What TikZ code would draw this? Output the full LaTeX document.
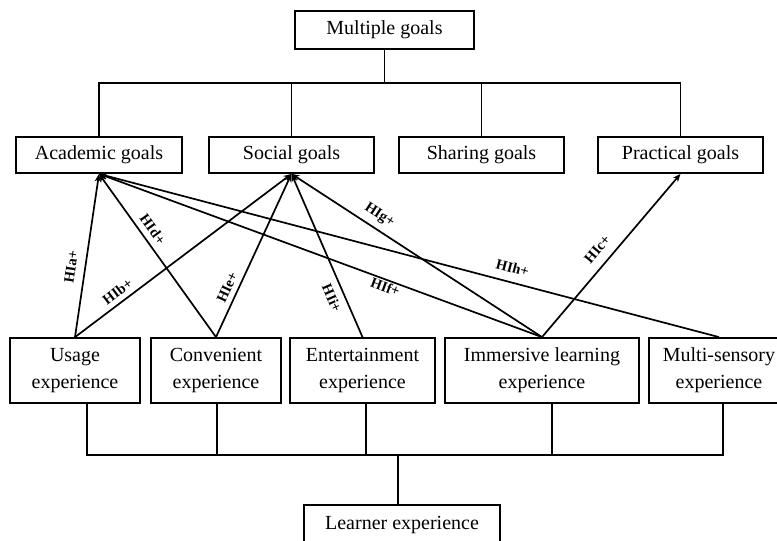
\documentclass[tikz,border=0pt]{standalone}
\usepackage{fontspec}
\setmainfont{Liberation Serif}
\usetikzlibrary{arrows.meta}
\begin{document}
\begin{tikzpicture}[x=1pt,y=-1pt,
  box/.style={draw, line width=1.8pt, inner sep=0pt, align=center,
    font=\fontsize{20}{27}\selectfont},
  goalbox/.style={box, minimum width=165pt, minimum height=36pt},
  expbox/.style={box, minimum width=130pt, minimum height=65pt},
  link/.style={line width=1.8pt},
  hyp/.style={line width=1.7pt, -{Stealth[length=8pt,width=6.5pt]}},
  hlabel/.style={sloped, inner sep=0pt, font=\bfseries\fontsize{14.5}{14.5}\selectfont}]
\useasboundingbox (0,0) rectangle (777,541);

% top level
\node[box, minimum width=179pt, minimum height=38pt] (mg) at (384.5,30) {Multiple goals};

% goal boxes
\node[goalbox, minimum width=166pt] (ag) at (99,155) {Academic goals};
\node[goalbox] (sg) at (291.5,155) {Social goals};
\node[goalbox] (shg) at (481.5,155) {Sharing goals};
\node[goalbox] (pg) at (680.5,155) {Practical goals};

% experience boxes
\node[expbox] (ue) at (75,370.5) {Usage\\experience};
\node[expbox] (ce) at (216,370.5) {Convenient\\experience};
\node[expbox, minimum width=145pt] (ee) at (362.5,370.5) {Entertainment\\experience};
\node[expbox, minimum width=194pt] (ie) at (542,370.5) {Immersive learning\\experience};
\node[expbox, minimum width=140pt] (me) at (719,370.5) {Multi-sensory\\experience};

% bottom level
\node[box, minimum width=196pt, minimum height=40pt] (le) at (402,525) {Learner experience};

% goal tree
\coordinate (gbus) at (384.5,83);
\draw[link] (mg.south) -- (gbus);
\draw[link] (ag.north) |- (gbus) -| (pg.north);
\draw[link] (sg.north) -- (sg.north |- gbus);
\draw[link] (shg.north) -- (shg.north |- gbus);

% experience tree
\coordinate (ebus) at (398,455);
\draw[link] ([xshift=12pt]ue.south) |- (ebus) -| ([xshift=4pt]me.south);
\draw[link] ([xshift=1pt]ce.south) -- ([xshift=1pt]ce.south |- ebus);
\draw[link] ([xshift=3.5pt]ee.south) -- ([xshift=3.5pt]ee.south |- ebus);
\draw[link] ([xshift=10pt]ie.south) -- ([xshift=10pt]ie.south |- ebus);
\draw[link] (ebus) -- (ebus |- le.north);

% hypothesised paths
\draw[hyp] (ue.north) -- node[hlabel, pos=0.419, above=8.4pt] {HIa+} (ag.south);
\draw[hyp] (ue.north) -- node[hlabel, pos=0.226, above=4.9pt] {HIb+} (sg.south);
\draw[hyp] (ce.north) -- node[hlabel, pos=0.619, above=5.5pt] {HId+} (ag.south);
\draw[hyp] (ce.north) -- node[hlabel, pos=0.278, above=5.1pt] {HIe+} (sg.south);
\draw[hyp] (ee.north) -- node[hlabel, pos=0.269, below=6.5pt] {HIi+} (sg.south);
\draw[hyp] (ie.north) -- node[hlabel, pos=0.678, above=5.9pt] {HIg+} (sg.south);
\draw[hyp] (ie.north) -- node[hlabel, pos=0.348, below=1pt] {HIf+} (ag.south);
\draw[hyp] (ie.north) -- node[hlabel, pos=0.48, above=8.9pt] {HIc+} (pg.south);
\draw[hyp] (me.north) -- node[hlabel, pos=0.339, above=8.6pt] {HIh+} (ag.south);
\end{tikzpicture}
\end{document}
